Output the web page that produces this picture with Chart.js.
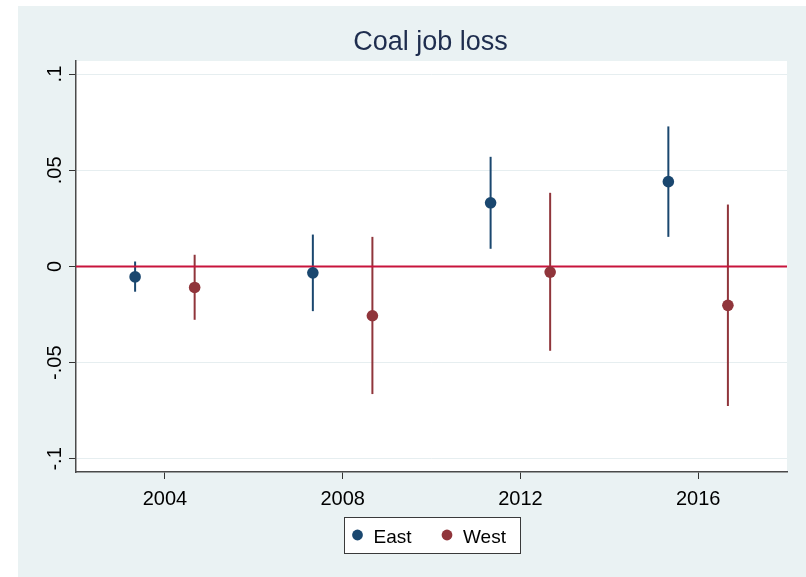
<!DOCTYPE html>
<html>
<head>
<meta charset="utf-8">
<script src="https://cdn.jsdelivr.net/npm/chart.js@4"></script>
<style>
  html, body { margin: 0; padding: 0; background: #ffffff; }
  #wrap { position: absolute; left: 18px; top: 6px; width: 788px; height: 571px; background: #eaf2f3; }
  canvas { display: block; }
</style>
</head>
<body>
<div id="wrap"><canvas id="c" width="788" height="571"></canvas></div>
<script>
// Survey waves and coefficient estimates with 95% confidence bounds
const years = [2004, 2008, 2012, 2016];
const xTicks = [2004, 2008, 2012, 2016];
const yTicks = [-0.1, -0.05, 0, 0.05, 0.1];
const yTickLabels = ['-.1', '-.05', '0', '.05', '.1'];

const eastCoef = [-0.0054, -0.0033, 0.0331, 0.0441];
const eastLo   = [-0.0131, -0.0232, 0.0092, 0.0154];
const eastHi   = [ 0.0026,  0.0166, 0.0570, 0.0728];

const westCoef = [-0.0109, -0.0256, -0.0029, -0.0202];
const westLo   = [-0.0277, -0.0663, -0.0438, -0.0725];
const westHi   = [ 0.0061,  0.0154,  0.0383,  0.0322];

// horizontal shift that separates the two regions within each wave
const dodge = 0.67;

const FONT = '"Liberation Sans", Arial, Helvetica, sans-serif';
const EAST = '#1a476f';
const WEST = '#90353b';
const ZERO = '#c8143c';

function points(coef, shift) {
  return years.map((yr, i) => ({ x: yr + shift, y: coef[i] }));
}

const plotBackground = {
  id: 'plotBackground',
  beforeDraw(chart) {
    const { ctx, chartArea: a } = chart;
    ctx.save();
    ctx.fillStyle = '#ffffff';
    ctx.fillRect(a.left, a.top, a.right - a.left, a.bottom - a.top);
    ctx.restore();
  }
};

const intervals = {
  id: 'intervals',
  beforeDatasetsDraw(chart) {
    const { ctx, chartArea: a } = chart;
    const xs = chart.scales.x, ys = chart.scales.y;
    ctx.save();
    chart.data.datasets.forEach(ds => {
      ctx.strokeStyle = ds.borderColor;
      ctx.lineWidth = 2;
      ds.data.forEach((p, i) => {
        const px = xs.getPixelForValue(p.x);
        ctx.beginPath();
        ctx.moveTo(px, ys.getPixelForValue(ds.lo[i]));
        ctx.lineTo(px, ys.getPixelForValue(ds.hi[i]));
        ctx.stroke();
      });
    });
    // reference line at zero
    const y0 = ys.getPixelForValue(0);
    ctx.strokeStyle = ZERO;
    ctx.lineWidth = 2;
    ctx.beginPath();
    ctx.moveTo(a.left, y0);
    ctx.lineTo(a.right, y0);
    ctx.stroke();
    ctx.restore();
  }
};

const annotations = {
  id: 'annotations',
  afterDraw(chart) {
    const { ctx, chartArea: a } = chart;
    const ys = chart.scales.y;
    const cx = (a.left + a.right) / 2;
    ctx.save();

    // title
    ctx.fillStyle = '#1e2d4e';
    ctx.font = '27px ' + FONT;
    ctx.textAlign = 'center';
    ctx.textBaseline = 'alphabetic';
    ctx.fillText('Coal job loss', cx - 1, 44);

    // rotated y tick labels
    ctx.fillStyle = '#000000';
    ctx.font = '20px ' + FONT;
    yTicks.forEach((v, i) => {
      ctx.save();
      ctx.translate(a.left - 15.5, ys.getPixelForValue(v));
      ctx.rotate(-Math.PI / 2);
      ctx.textAlign = 'center';
      ctx.textBaseline = 'alphabetic';
      ctx.fillText(yTickLabels[i], 0, 0);
      ctx.restore();
    });

    // legend
    const bw = 176, bh = 36;
    const bx = Math.round(cx - bw / 2) + 0.5, by = 511.5;
    ctx.fillStyle = '#ffffff';
    ctx.fillRect(bx, by, bw, bh);
    ctx.strokeStyle = '#3a3a3a';
    ctx.lineWidth = 1;
    ctx.strokeRect(bx, by, bw, bh);
    const offsets = [13, 102.5];
    ctx.font = '19px ' + FONT;
    ctx.textAlign = 'left';
    ctx.textBaseline = 'alphabetic';
    chart.data.datasets.forEach((ds, i) => {
      const mx = bx + offsets[i];
      ctx.fillStyle = ds.backgroundColor;
      ctx.beginPath();
      ctx.arc(mx, by + 17.5, 5.4, 0, Math.PI * 2);
      ctx.fill();
      ctx.fillStyle = '#000000';
      ctx.fillText(ds.label, mx + 16, by + 25);
    });
    ctx.restore();
  }
};

new Chart(document.getElementById('c'), {
  type: 'scatter',
  data: {
    datasets: [
      { label: 'East', data: points(eastCoef, -dodge), lo: eastLo, hi: eastHi,
        backgroundColor: EAST, borderColor: EAST, borderWidth: 0, pointRadius: 5.8, pointHoverRadius: 5.8 },
      { label: 'West', data: points(westCoef, dodge), lo: westLo, hi: westHi,
        backgroundColor: WEST, borderColor: WEST, borderWidth: 0, pointRadius: 5.8, pointHoverRadius: 5.8 }
    ]
  },
  options: {
    responsive: false,
    animation: false,
    events: [],
    layout: { padding: { top: 55, left: 0, right: 19, bottom: 0 } },
    plugins: {
      legend: { display: false },
      title: { display: false },
      tooltip: { enabled: false }
    },
    scales: {
      x: {
        type: 'linear',
        min: 2002,
        max: 2018,
        afterBuildTicks: s => { s.ticks = xTicks.map(v => ({ value: v })); },
        afterFit: s => { s.height = 105; },
        ticks: {
          color: '#000000',
          font: { family: FONT, size: 20 },
          padding: 8,
          maxRotation: 0,
          callback: v => String(v)
        },
        grid: { drawOnChartArea: false, drawTicks: true, tickLength: 7, tickColor: '#333333', tickWidth: 1 },
        border: { display: true, color: '#4a4a4a', width: 1.5 }
      },
      y: {
        type: 'linear',
        min: -0.1068,
        max: 0.1068,
        afterBuildTicks: s => { s.ticks = yTicks.map(v => ({ value: v })); },
        afterFit: s => { s.width = 58; },
        ticks: { display: false },
        grid: { color: '#e6eef0', lineWidth: 1, drawTicks: true, tickLength: 7, tickColor: '#333333', tickWidth: 1 },
        border: { display: true, color: '#4a4a4a', width: 1.5 }
      }
    }
  },
  plugins: [plotBackground, intervals, annotations]
});
</script>
</body>
</html>
